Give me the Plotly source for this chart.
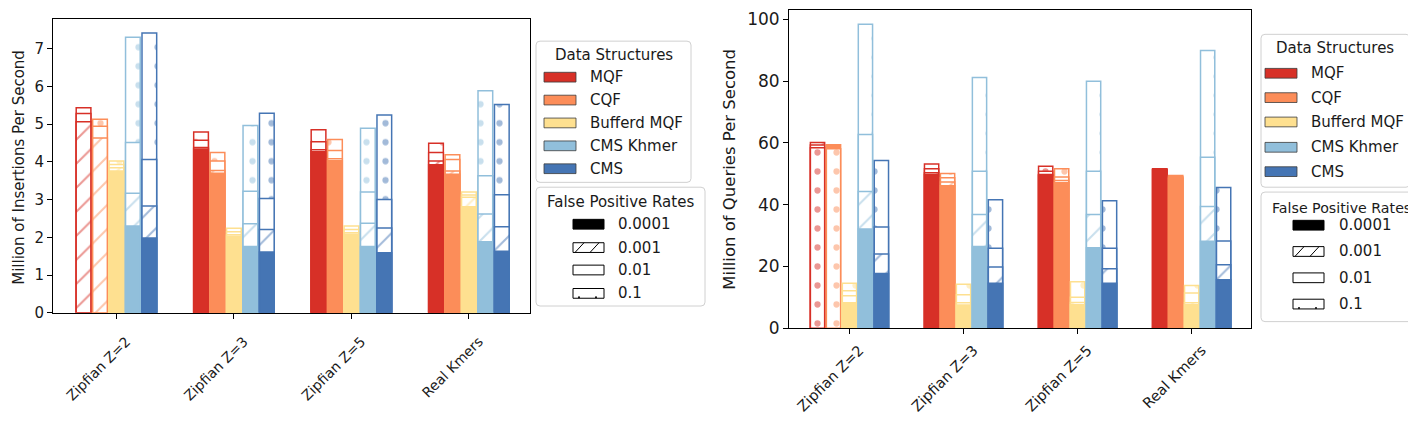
import plotly.graph_objects as go

W, H = 1416, 421

datasets = ["Zipfian Z=2", "Zipfian Z=3", "Zipfian Z=5", "Real Kmers"]
structures = ["MQF", "CQF", "Bufferd MQF", "CMS Khmer", "CMS"]
colors = ["#d73027", "#fc8d59", "#fee090", "#91bfdb", "#4575b4"]
fp_rates = ["0.0001", "0.001", "0.01", "0.1"]

# million insertions / second, rows = structure, cols = dataset
ins_fp0001 = [[None, 4.34, 4.27, 3.92], [None, 3.70, 4.03, 3.67], [3.76, 2.03, 2.08, 2.81],
              [2.30, 1.76, 1.76, 1.88], [1.98, 1.61, 1.59, 1.63]]
ins_fp001 = [[5.06, 4.38, 4.32, 4.02], [4.63, 3.77, 4.08, 3.76], [3.84, 2.07, 2.12, 3.06],
             [3.17, 2.36, 2.37, 2.62], [2.83, 2.21, 2.25, 2.28]]
ins_fp01 = [[5.28, 4.57, 4.53, 4.25], [4.94, 4.02, 4.30, 4.06], [3.93, 2.15, 2.21, 3.12],
            [4.51, 3.22, 3.20, 3.63], [4.06, 3.03, 3.00, 3.13]]
ins_fp1 = [[5.43, 4.79, 4.85, 4.49], [5.13, 4.25, 4.59, 4.19], [4.02, 2.24, 2.30, 3.20],
           [7.30, 4.96, 4.89, 5.88], [7.41, 5.29, 5.24, 5.52]]

# million queries / second
qry_fp0001 = [[None, 49.7, 49.5, 51.2], [59.4, 46.1, 47.1, 48.4], [8.2, 7.5, 7.6, 7.6],
              [32.1, 26.4, 26.0, 28.1], [17.7, 14.5, 14.5, 15.7]]
qry_fp001 = [[60.1, 50.3, 49.7, 51.3], [None, 47.3, 47.8, 48.7], [10.5, 8.2, 8.3, 8.2],
             [44.2, 36.8, 36.8, 39.4], [24.0, 19.8, 19.2, 20.5]]
qry_fp01 = [[59.3, 51.6, 50.8, 51.4], [None, 48.7, 48.9, 49.0], [12.1, 10.8, 10.0, 11.4],
            [62.7, 50.8, 50.8, 55.3], [32.7, 25.9, 25.9, 28.2]]
qry_fp1 = [[58.4, 53.1, 52.4, 51.6], [58.1, 50.1, 51.6, 49.4], [14.5, 14.2, 15.0, 13.8],
           [98.4, 81.1, 79.9, 89.9], [54.3, 41.6, 41.2, 45.5]]

FONT = "DejaVu Sans"
TXT = "#1a1a1a"
BAR_W = 0.125
PITCH = 0.14

# look of each false positive rate: (pattern, size, solidity)
fp_style = [("", 8, 0.3), ("/", 17, 0.12), ("", 8, 0.3), (".", 19, 0.085)]


def add_panel(fig, tables, xa, ya):
    for s, col in enumerate(colors):
        for d, ds in enumerate(datasets):
            # draw the tallest rate first so the shorter ones stay visible
            vals = [(t[s][d], k) for k, t in enumerate(tables) if t[s][d] is not None]
            for v, k in sorted(vals, key=lambda p: -p[0]):
                shp, sz, sol = fp_style[k]
                if k == 0:
                    marker = dict(color=col, line=dict(color=col, width=1.5))
                elif shp == "":
                    marker = dict(color="white", line=dict(color=col, width=1.5))
                else:
                    marker = dict(color="white", line=dict(color=col, width=1.5),
                                  pattern=dict(shape=shp, fgcolor=col, bgcolor="white",
                                               size=sz, solidity=sol, fillmode="overlay"))
                fig.add_trace(go.Bar(
                    x=[ds], y=[v], width=BAR_W, offset=(s - 2) * PITCH - BAR_W / 2,
                    marker=marker, showlegend=False, hoverinfo="skip", xaxis=xa, yaxis=ya))


fig = go.Figure()
add_panel(fig, [ins_fp0001, ins_fp001, ins_fp01, ins_fp1], "x", "y")
add_panel(fig, [qry_fp0001, qry_fp001, qry_fp01, qry_fp1], "x2", "y2")


def px(x):
    return x / W


def py(y):
    return 1 - y / H


def axis(size, **kw):
    return dict(showline=True, linecolor="black", linewidth=1, mirror=True, ticks="outside",
                ticklen=5, tickcolor="black", showgrid=False, zeroline=False,
                tickfont=dict(family=FONT, size=size, color=TXT), **kw)


fig.update_layout(
    width=W, height=H, margin=dict(l=0, r=0, t=0, b=0),
    paper_bgcolor="white", plot_bgcolor="white", barmode="overlay",
    xaxis=axis(14, domain=[px(45), px(522)], anchor="y", range=[-0.54, 3.52], tickangle=-45,
               ticklabelshift=10, ticklabelstandoff=9),
    yaxis=axis(15, domain=[py(312), py(10)], anchor="x", range=[0, 7.79], dtick=1),
    xaxis2=axis(14.5, domain=[px(781), px(1243)], anchor="y2", range=[-0.53, 3.52], tickangle=-45,
                ticklabelshift=10, ticklabelstandoff=2),
    yaxis2=axis(17, domain=[py(327.7), py(1)], anchor="x2", range=[0, 103], dtick=20),
)

fig.add_annotation(text="Million of Insertions Per Second", x=px(11), y=py(163), xref="paper",
                   yref="paper", textangle=-90, showarrow=False, xanchor="center", yanchor="middle",
                   font=dict(family=FONT, size=15, color=TXT))
fig.add_annotation(text="Million of Queries Per Second", x=px(722), y=py(165), xref="paper",
                   yref="paper", textangle=-90, showarrow=False, xanchor="center", yanchor="middle",
                   font=dict(family=FONT, size=16.5, color=TXT))


def rounded_box(x0, y0, x1, y1, r=4):
    p = (f"M{px(x0 + r)},{py(y0)} L{px(x1 - r)},{py(y0)} Q{px(x1)},{py(y0)} {px(x1)},{py(y0 + r)} "
         f"L{px(x1)},{py(y1 - r)} Q{px(x1)},{py(y1)} {px(x1 - r)},{py(y1)} "
         f"L{px(x0 + r)},{py(y1)} Q{px(x0)},{py(y1)} {px(x0)},{py(y1 - r)} "
         f"L{px(x0)},{py(y0 + r)} Q{px(x0)},{py(y0)} {px(x0 + r)},{py(y0)} Z")
    fig.add_shape(type="path", path=p, xref="paper", yref="paper",
                  line=dict(color="#d0d0d0", width=1), fillcolor="rgba(255,255,255,0.8)")


def text(t, x, y, anchor="left", size=15):
    fig.add_annotation(text=t, x=px(x), y=py(y), xref="paper", yref="paper", showarrow=False,
                       xanchor=anchor, yanchor="middle", font=dict(family=FONT, size=size, color=TXT))


def rect(x0, y0, x1, y1, fill, line="black", lw=1):
    fig.add_shape(type="rect", x0=px(x0), x1=px(x1), y0=py(y0), y1=py(y1), xref="paper",
                  yref="paper", fillcolor=fill, line=dict(color=line, width=lw))


def seg(x0, y0, x1, y1):
    fig.add_shape(type="line", x0=px(x0), x1=px(x1), y0=py(y0), y1=py(y1), xref="paper",
                  yref="paper", line=dict(color="black", width=1))


def legends(ds_box, ds_title, ds_ys, ds_patch_x, ds_text_x,
            fp_box, fp_title, fp_ys, fp_patch_x, fp_text_x, fp_title_size):
    rounded_box(*ds_box)
    text("Data Structures", ds_title[0], ds_title[1], "center")
    for name, col, y in zip(structures, colors, ds_ys):
        rect(ds_patch_x, y - 5, ds_patch_x + 32, y + 5, col, "rgba(60,60,60,0.8)")
        text(name, ds_text_x, y)
    rounded_box(*fp_box)
    text("False Positive Rates", fp_title[0], fp_title[1], "center", fp_title_size)
    for k, (lab, y) in enumerate(zip(fp_rates, fp_ys)):
        x0, x1 = fp_patch_x, fp_patch_x + 31
        rect(x0, y - 5, x1, y + 5, "black" if k == 0 else "white")
        if k == 1:
            seg(x0 + 2, y + 5, x0 + 11, y - 5)
            seg(x0 + 17, y + 5, x0 + 26, y - 5)
        if k == 3:
            for dx in (6, 23):
                fig.add_shape(type="circle", x0=px(x0 + dx - 1), x1=px(x0 + dx + 1),
                              y0=py(y + 5), y1=py(y + 3), xref="paper", yref="paper",
                              fillcolor="black", line=dict(width=0))
        text(lab, fp_text_x, y)


legends((528, 33, 683, 178), (605.5, 47), [70, 93.5, 117, 140.5, 164], 536, 580,
        (528, 183, 697, 305), (612.5, 198), [221, 245, 268, 292], 565, 608, 15)
legends((1253, 26, 1402, 183), (1327, 40), [66, 91, 116, 142, 167], 1257, 1301,
        (1253, 188, 1414, 321), (1333, 204), [222, 249, 276, 303], 1285, 1329, 14.2)

fig.write_html("out.html")
